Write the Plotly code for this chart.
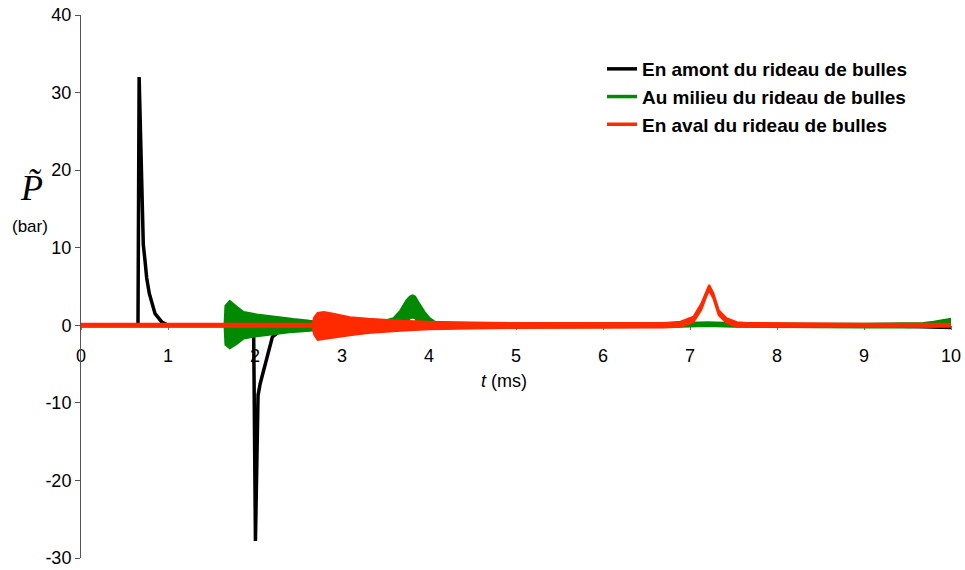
import plotly.graph_objects as go

# ---------------- data ----------------
# Black: upstream of the bubble curtain (smooth curve)
black_t = [0, 0.655, 0.668, 0.69, 0.698, 0.709, 0.716, 0.736, 0.755, 0.785, 0.823, 0.851, 0.93, 1.0,
           1.95, 1.985, 2.005, 2.035, 2.06, 2.2, 2.3, 2.45, 9.0, 9.5, 10.0]
black_p = [0, 0, 32.0, 21.0, 17.0, 12.6, 10.4, 8.3, 6.1, 4.1, 2.4, 1.5, 0.4, 0.0,
           0.0, -1.5, -27.8, -9.0, -7.5, -1.5, -0.6, 0.0, 0.0, -0.2, -0.3]

# Green: middle of the bubble curtain (fast oscillation -> envelope)
green_t = [0, 1.65, 1.66, 1.71, 1.79, 1.87, 2.02, 2.21, 2.44, 2.63, 2.9, 3.2,
           3.45, 3.59, 3.67, 3.74, 3.78, 3.81, 3.84, 3.88, 3.95, 4.01, 4.07,
           4.2, 5.0, 6.0, 6.9, 7.2, 7.5, 8.0, 9.0, 9.5, 9.68, 9.8, 9.9, 10.0]
green_up = [0.15, 0.15, 2.5, 3.15, 2.4, 1.7, 1.4, 1.1, 0.8, 0.6, 0.45, 0.4,
            0.45, 0.9, 1.9, 3.2, 3.7, 3.85, 3.7, 2.95, 1.7, 0.9, 0.45,
            0.3, 0.25, 0.2, 0.3, 0.4, 0.3, 0.2, 0.2, 0.25, 0.3, 0.45, 0.65, 0.85]
green_lo = [-0.15, -0.15, -2.5, -2.95, -2.4, -1.7, -1.4, -1.15, -0.85, -0.7, -0.5, -0.45,
            -0.4, -0.3, -0.2, 0.2, 0.9, 1.0, 0.9, 0.2, -0.1, -0.2, -0.3,
            -0.3, -0.25, -0.25, -0.2, -0.1, -0.2, -0.25, -0.3, -0.3, -0.25, -0.2, -0.15, -0.1]

# Red: downstream of the bubble curtain (envelope)
red_t = [0, 2.66, 2.68, 2.72, 2.79, 2.9, 3.09, 3.3, 3.67, 4.0, 4.5, 5.0, 6.0,
         6.7, 6.89, 7.04, 7.13, 7.19, 7.22, 7.27, 7.33, 7.42, 7.54, 7.65, 8.0, 9.0, 10.0]
red_up = [0.2, 0.2, 1.0, 1.6, 1.7, 1.5, 1.05, 0.85, 0.6, 0.45, 0.35, 0.3, 0.3,
          0.3, 0.45, 1.1, 2.8, 4.5, 5.2, 4.1, 1.95, 0.9, 0.4, 0.3, 0.25, 0.2, 0.2]
red_lo = [-0.2, -0.2, -1.2, -1.9, -1.85, -1.6, -1.3, -1.0, -0.7, -0.5, -0.4, -0.35, -0.3,
          -0.3, -0.2, 0.4, 2.0, 3.8, 4.5, 3.4, 1.3, 0.3, -0.2, -0.25, -0.25, -0.2, -0.2]

names = ["En amont du rideau de bulles",
         "Au milieu du rideau de bulles",
         "En aval du rideau de bulles"]
colors = ["#000000", "#008a00", "#ff2a00"]

x_ticks = [0, 1, 2, 3, 4, 5, 6, 7, 8, 9, 10]
y_ticks = [-30, -20, -10, 0, 10, 20, 30, 40]

# ---------------- figure ----------------
W, H = 965, 570
ML, MR, MT, MB = 81, 14, 15, 12
PW, PH = W - ML - MR, H - MT - MB


def px2paper(px, py):
    return (px - ML) / PW, 1 - (py - MT) / PH


fig = go.Figure()

fig.add_trace(go.Scatter(x=black_t, y=black_p, mode="lines",
                         line=dict(color=colors[0], width=3.5),
                         showlegend=False, hoverinfo="skip"))


def band(t, up, lo, color):
    return go.Scatter(x=list(t) + list(t)[::-1], y=list(up) + list(lo)[::-1],
                      mode="lines", fill="toself", fillcolor=color,
                      line=dict(color=color, width=2),
                      showlegend=False, hoverinfo="skip")


fig.add_trace(band(green_t, green_up, green_lo, colors[1]))
fig.add_trace(band(red_t, red_up, red_lo, colors[2]))

for i, (n, c) in enumerate(zip(names, colors)):
    fig.add_trace(go.Scatter(x=[None], y=[None], mode="lines", name=n,
                             line=dict(color=c, width=3.5), legendgroup=f"g{i}"))

font_family = "Liberation Sans, Arial, Helvetica, sans-serif"
lx, ly = px2paper(602, 50)

fig.update_layout(
    template="none",
    width=W, height=H,
    margin=dict(l=ML, r=MR, t=MT, b=MB, autoexpand=False),
    plot_bgcolor="white", paper_bgcolor="white",
    font=dict(family=font_family, size=18, color="#000"),
    showlegend=True,
    legend=dict(x=lx, y=ly, xanchor="left", yanchor="top",
                bgcolor="rgba(0,0,0,0)", borderwidth=0,
                font=dict(family=font_family, size=19, color="#000", weight="bold"),
                tracegroupgap=0, itemwidth=30),
    xaxis=dict(range=[0, 10], tickvals=x_ticks, ticktext=[str(v) for v in x_ticks],
               showgrid=False, zeroline=False, showline=True, linecolor="#555", linewidth=1,
               ticks="outside", ticklen=4, tickcolor="#777", ticklabelstandoff=10,
               anchor="free", position=30 / 70, layer="below traces", automargin=False,
               tickfont=dict(size=18)),
    yaxis=dict(range=[-30, 40], tickvals=y_ticks, ticktext=[str(v) for v in y_ticks],
               showgrid=False, zeroline=False, showline=True, linecolor="#555", linewidth=1,
               ticks="outside", ticklen=5, tickcolor="#555", automargin=False,
               tickfont=dict(size=18)),
)

# axis titles
fig.add_annotation(text="<i>t</i> (ms)", x=4.86, y=-7.2, xref="x", yref="y",
                   xanchor="center", yanchor="middle",
                   showarrow=False, font=dict(size=18, family=font_family))
px_, py_ = px2paper(31, 188)
fig.add_annotation(text="<i>P\u0303</i>", x=px_, y=py_, xref="paper", yref="paper",
                   xanchor="center", yanchor="middle",
                   showarrow=False, font=dict(size=36, family="Liberation Serif, Times New Roman, serif"))
px_, py_ = px2paper(30, 226)
fig.add_annotation(text="(bar)", x=px_, y=py_, xref="paper", yref="paper",
                   xanchor="center", yanchor="middle",
                   showarrow=False, font=dict(size=17, family=font_family))

fig.write_html("out.html",
               config={"displayModeBar": False},
               post_script="document.body.style.margin='0';document.body.style.padding='0';")
